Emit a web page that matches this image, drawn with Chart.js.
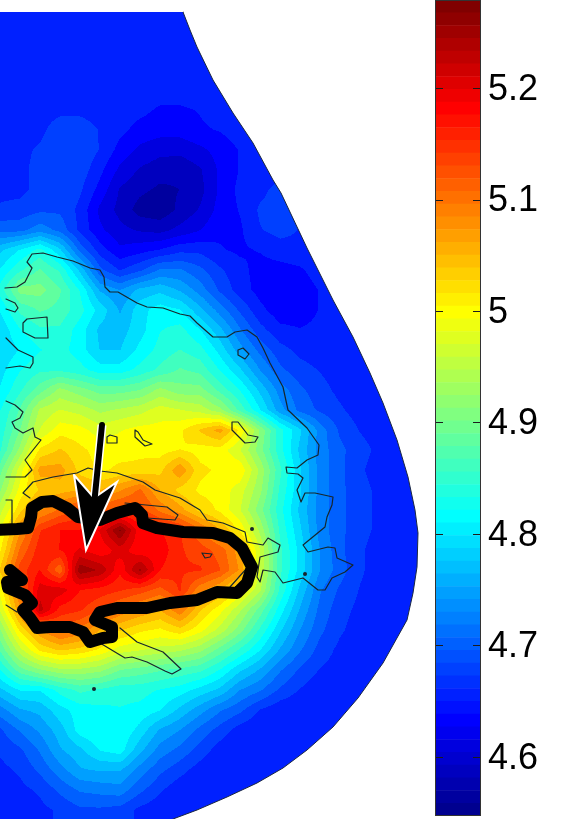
<!DOCTYPE html>
<html>
<head>
<meta charset="utf-8">
<title>Map</title>
<script src="https://cdn.jsdelivr.net/npm/chart.js@4/dist/chart.umd.min.js"></script>
<style>
html, body { margin: 0; padding: 0; background: #fff; }
#mapChart { position: absolute; left: 0; top: 0; }
#barChart { position: absolute; left: 430px; top: 0; }
</style>
</head>
<body>
<canvas id="mapChart" width="420" height="819"></canvas>
<canvas id="barChart" width="132" height="819"></canvas>
<script>
const colorMin = 4.547, colorMax = 5.279;
const colorLevels = 64;
const tickValues = [4.6, 4.7, 4.8, 4.9, 5, 5.1, 5.2];
const tickLabels = ['4.6', '4.7', '4.8', '4.9', '5', '5.1', '5.2'];

// field, one row per gridY, columns at gridX (last value carries to the edge)
const gridX = [0, 20, 40, 60, 80, 100, 120, 140, 160, 180, 200, 220, 240, 260, 280, 300, 320, 340, 360, 380, 400, 420];
const gridY = [10, 30, 50, 70, 90, 110, 130, 150, 170, 190, 210, 230, 250, 270, 290, 310, 330, 350, 370, 390, 410, 430, 450, 470, 490, 510, 530, 550, 570, 590, 610, 630, 650, 670, 690, 710, 730, 750, 770, 790, 810];
const fieldRows = [
  [4.65],
  [4.65],
  [4.65],
  [4.65],
  [4.65],
  [4.65, 4.65, 4.65, 4.655, 4.655, 4.65, 4.65, 4.645, 4.635, 4.635, 4.64, 4.65],
  [4.65, 4.65, 4.655, 4.675, 4.675, 4.66, 4.645, 4.63, 4.625, 4.625, 4.635, 4.64, 4.65],
  [4.65, 4.655, 4.665, 4.68, 4.68, 4.66, 4.63, 4.61, 4.60, 4.60, 4.61, 4.625, 4.64, 4.65],
  [4.65, 4.655, 4.67, 4.68, 4.675, 4.645, 4.61, 4.59, 4.58, 4.575, 4.59, 4.62, 4.64, 4.65],
  [4.655, 4.655, 4.67, 4.68, 4.665, 4.63, 4.59, 4.575, 4.565, 4.57, 4.585, 4.62, 4.645, 4.655, 4.67],
  [4.665, 4.67, 4.68, 4.68, 4.655, 4.61, 4.585, 4.56, 4.555, 4.575, 4.595, 4.625, 4.64, 4.665, 4.67, 4.665],
  [4.70, 4.70, 4.72, 4.70, 4.655, 4.62, 4.60, 4.59, 4.585, 4.60, 4.615, 4.635, 4.635, 4.66, 4.67, 4.66],
  [4.77, 4.80, 4.83, 4.78, 4.70, 4.65, 4.62, 4.63, 4.64, 4.655, 4.655, 4.64, 4.635, 4.64, 4.65, 4.655, 4.66],
  [4.80, 4.84, 4.87, 4.84, 4.77, 4.69, 4.66, 4.68, 4.71, 4.71, 4.69, 4.665, 4.645, 4.63, 4.63, 4.635, 4.65],
  [4.83, 4.90, 4.90, 4.87, 4.82, 4.75, 4.73, 4.76, 4.77, 4.75, 4.72, 4.68, 4.65, 4.63, 4.625, 4.625, 4.64, 4.65],
  [4.80, 4.85, 4.87, 4.86, 4.83, 4.79, 4.75, 4.79, 4.81, 4.80, 4.76, 4.72, 4.68, 4.645, 4.625, 4.625, 4.64, 4.65],
  [4.78, 4.82, 4.84, 4.84, 4.81, 4.77, 4.765, 4.79, 4.82, 4.83, 4.80, 4.76, 4.71, 4.67, 4.645, 4.64, 4.645, 4.65, 4.655],
  [4.78, 4.80, 4.82, 4.83, 4.81, 4.775, 4.775, 4.805, 4.83, 4.845, 4.83, 4.79, 4.74, 4.70, 4.67, 4.655, 4.65, 4.65, 4.65],
  [4.79, 4.82, 4.84, 4.84, 4.83, 4.81, 4.81, 4.83, 4.85, 4.87, 4.86, 4.82, 4.78, 4.73, 4.69, 4.67, 4.66, 4.65],
  [4.80, 4.84, 4.88, 4.92, 4.90, 4.88, 4.88, 4.89, 4.92, 4.90, 4.90, 4.86, 4.82, 4.77, 4.72, 4.69, 4.67, 4.655, 4.65],
  [4.82, 4.87, 4.94, 4.96, 4.95, 4.93, 4.94, 4.95, 4.97, 4.96, 4.95, 4.92, 4.86, 4.80, 4.74, 4.70, 4.68, 4.665, 4.65],
  [4.83, 4.89, 4.96, 4.995, 4.99, 4.97, 4.98, 4.99, 4.99, 5.00, 5.03, 5.06, 5.00, 4.91, 4.83, 4.78, 4.72, 4.68, 4.66, 4.65],
  [4.84, 4.92, 5.01, 5.03, 5.01, 4.995, 4.995, 5.00, 4.995, 5.005, 4.995, 4.995, 4.96, 4.90, 4.83, 4.77, 4.72, 4.69, 4.67, 4.655, 4.65],
  [4.88, 4.97, 5.06, 5.06, 5.02, 5.00, 5.01, 5.01, 5.02, 5.07, 5.01, 5.00, 5.00, 4.93, 4.85, 4.78, 4.72, 4.69, 4.665, 4.65],
  [4.91, 4.99, 5.03, 5.04, 5.05, 5.05, 5.07, 5.10, 5.05, 5.02, 5.00, 4.995, 4.97, 4.92, 4.84, 4.78, 4.72, 4.69, 4.67, 4.655, 4.65],
  [4.95, 5.02, 5.07, 5.10, 5.13, 5.11, 5.13, 5.13, 5.09, 5.06, 5.02, 5.00, 4.96, 4.90, 4.83, 4.77, 4.72, 4.69, 4.67, 4.655, 4.65],
  [4.98, 5.07, 5.14, 5.165, 5.165, 5.19, 5.26, 5.17, 5.165, 5.145, 5.10, 5.05, 5.00, 4.93, 4.84, 4.78, 4.72, 4.69, 4.67, 4.655, 4.65],
  [5.00, 5.10, 5.155, 5.165, 5.19, 5.17, 5.20, 5.17, 5.18, 5.145, 5.13, 5.11, 5.06, 4.96, 4.85, 4.79, 4.73, 4.69, 4.665, 4.65],
  [5.03, 5.13, 5.165, 5.10, 5.25, 5.23, 5.17, 5.24, 5.165, 5.145, 5.145, 5.12, 5.07, 4.96, 4.85, 4.79, 4.73, 4.695, 4.665, 4.65],
  [4.99, 5.10, 5.20, 5.20, 5.165, 5.155, 5.145, 5.13, 5.11, 5.145, 5.08, 5.05, 5.00, 4.94, 4.84, 4.77, 4.71, 4.68, 4.66, 4.65],
  [4.96, 5.07, 5.22, 5.155, 5.145, 5.12, 5.09, 5.07, 5.05, 5.09, 5.03, 4.99, 4.94, 4.88, 4.81, 4.75, 4.70, 4.67, 4.655, 4.65],
  [4.91, 5.01, 5.07, 5.11, 5.09, 5.05, 5.03, 5.01, 5.00, 5.02, 4.99, 4.95, 4.90, 4.84, 4.78, 4.73, 4.69, 4.665, 4.65],
  [4.87, 4.95, 5.01, 5.03, 5.02, 5.00, 4.97, 4.96, 4.95, 4.94, 4.92, 4.88, 4.84, 4.80, 4.75, 4.71, 4.675, 4.655, 4.65],
  [4.82, 4.88, 4.91, 4.93, 4.93, 4.92, 4.89, 4.88, 4.87, 4.86, 4.85, 4.82, 4.78, 4.75, 4.71, 4.68, 4.66, 4.65],
  [4.77, 4.80, 4.80, 4.83, 4.85, 4.84, 4.83, 4.83, 4.82, 4.81, 4.79, 4.77, 4.73, 4.71, 4.68, 4.66, 4.645, 4.64],
  [4.72, 4.75, 4.76, 4.79, 4.81, 4.815, 4.82, 4.815, 4.80, 4.77, 4.74, 4.71, 4.69, 4.66, 4.645, 4.64],
  [4.68, 4.71, 4.735, 4.765, 4.81, 4.82, 4.82, 4.79, 4.75, 4.73, 4.70, 4.675, 4.65, 4.64],
  [4.665, 4.68, 4.71, 4.75, 4.77, 4.80, 4.81, 4.76, 4.72, 4.70, 4.675, 4.65, 4.64],
  [4.655, 4.665, 4.69, 4.72, 4.75, 4.755, 4.755, 4.72, 4.69, 4.67, 4.65, 4.64],
  [4.65, 4.655, 4.665, 4.69, 4.71, 4.715, 4.72, 4.69, 4.665, 4.645, 4.64],
  [4.64, 4.65, 4.655, 4.665, 4.68, 4.68, 4.675, 4.655, 4.645, 4.64]
];

// outlines, all as [x, y] in map units
const outerEdge = [[0, 12], [183, 12], [190, 30], [197, 47], [213, 80], [233, 113], [253, 143], [273, 180], [281, 193], [307, 248], [333, 300], [353, 337], [370, 373], [383, 403], [397, 440], [408, 477], [415, 510], [418, 533], [417, 567], [413, 593], [407, 620], [383, 663], [358, 698], [333, 727], [307, 750], [283, 768], [257, 783], [227, 797], [197, 810], [173, 819], [0, 819]];
const coastMain = [[5, 288], [17, 287], [25, 282], [32, 268], [27, 262], [32, 254], [43, 253], [57, 257], [73, 261], [90, 268], [100, 270], [104, 277], [105, 287], [110, 292], [118, 292], [137, 303], [147, 307], [163, 308], [180, 314], [190, 316], [197, 323], [213, 337], [227, 337], [235, 332], [247, 330], [257, 337], [263, 348], [270, 363], [283, 387], [288, 410], [307, 428], [319, 445], [318, 455], [307, 460], [297, 468], [286, 467], [287, 473], [298, 474], [303, 478], [297, 490], [301, 502], [305, 493], [315, 493], [333, 497], [332, 505], [327, 517], [325, 527], [303, 545], [308, 552], [328, 547], [335, 548], [337, 558], [353, 565], [345, 572], [332, 578], [325, 590], [318, 590], [303, 578], [287, 582], [283, 583], [275, 572], [263, 570], [260, 582], [257, 577], [260, 557], [278, 552], [280, 545], [268, 538], [263, 545], [247, 542], [245, 532], [223, 523], [207, 520], [200, 510], [180, 498], [155, 490], [143, 482], [117, 473], [100, 471], [88, 468], [77, 473], [53, 477], [33, 482], [23, 493], [30, 498]];
const coastWest = [[6, 401], [15, 405], [23, 412], [20, 418], [12, 422], [15, 428], [23, 433], [33, 428], [35, 437], [41, 440], [25, 460], [32, 470], [25, 477], [6, 477]];
const coastPieces = [
  [[6, 299], [15, 303], [18, 308], [15, 312], [6, 309]],
  [[23, 323], [27, 319], [47, 317], [48, 338], [35, 338], [23, 332], [23, 323]],
  [[6, 338], [18, 350], [33, 357], [33, 363], [30, 368], [20, 366], [6, 368]],
  [[238, 350], [243, 348], [249, 354], [245, 359], [238, 355], [238, 350]],
  [[107, 437], [110, 435], [117, 437], [117, 443], [107, 443], [107, 437]],
  [[135, 430], [138, 432], [143, 440], [152, 444], [145, 446], [135, 437], [135, 430]],
  [[232, 422], [238, 422], [248, 435], [258, 437], [255, 442], [245, 443], [232, 430], [232, 422]],
  [[125, 503], [167, 507], [178, 515], [175, 520], [147, 518]],
  [[202, 553], [212, 554], [210, 557], [205, 558], [202, 553]],
  [[6, 500], [12, 500], [12, 525]],
  [[6, 605], [17, 612]],
  [[230, 587], [247, 568]],
  [[120, 628], [137, 642], [163, 652], [181, 669], [172, 674], [165, 671], [147, 662], [132, 657], [125, 658], [100, 643]]
];
const coastSpots = [{ x: 94, y: 689 }, { x: 252, y: 529 }, { x: 305, y: 574 }];
const thickOutline = [[-3, 530], [17, 529], [28, 528], [31, 517], [32, 508], [42, 502], [53, 501], [67, 508], [78, 517], [100, 520], [117, 513], [135, 508], [142, 515], [143, 523], [157, 528], [183, 532], [213, 533], [230, 538], [242, 548], [252, 567], [247, 583], [237, 593], [217, 592], [197, 600], [170, 603], [147, 608], [117, 608], [100, 612], [95, 620], [112, 627], [112, 637], [103, 638], [90, 642], [83, 632], [70, 627], [50, 627], [37, 628], [30, 618], [23, 610], [32, 603], [25, 595], [8, 588], [7, 582], [22, 580], [10, 570]];
const arrowShaft = [[102, 425], [94, 505]];
const arrowHead = [[74, 475], [94, 498], [117, 482], [86, 550], [74, 475]];

function jetColor(i) {
  const t = (i + 1) / colorLevels;
  const ch = d => Math.round(255 * Math.max(0, Math.min(1, 1.5 - Math.abs(4 * t - d))));
  return [ch(3), ch(2), ch(1)];
}

function toPoints(list) {
  return list.map(p => ({ x: p[0], y: p[1] }));
}

function lineSet(list, color, width) {
  return {
    data: toPoints(list), showLine: true, pointRadius: 0, borderColor: color, borderWidth: width,
    borderCapStyle: 'round', borderJoinStyle: 'round', tension: 0
  };
}

function fieldAt(x, y) {
  const step = 20;
  const gx = Math.max(0, Math.min(gridX.length - 1.001, (x - gridX[0]) / step));
  const gy = Math.max(0, Math.min(gridY.length - 1.001, (y - gridY[0]) / step));
  const i = Math.floor(gx), j = Math.floor(gy);
  const fx = gx - i, fy = gy - j;
  const cell = (r, c) => fieldRows[r][Math.min(c, fieldRows[r].length - 1)];
  const top = cell(j, i) * (1 - fx) + cell(j, i + 1) * fx;
  const bot = cell(j + 1, i) * (1 - fx) + cell(j + 1, i + 1) * fx;
  return top * (1 - fy) + bot * fy;
}

// paints the filled contours under the lines, clipped to the outer edge
const fieldPlugin = {
  id: 'field',
  beforeDatasetsDraw(chart) {
    const { ctx, scales: { x, y }, chartArea } = chart;
    const w = Math.round(chartArea.right - chartArea.left), h = Math.round(chartArea.bottom - chartArea.top);
    const off = document.createElement('canvas');
    off.width = w; off.height = h;
    const octx = off.getContext('2d');
    const img = octx.createImageData(w, h);
    for (let py = 0; py < h; py++) {
      const vy = y.getValueForPixel(py + 0.5);
      for (let px = 0; px < w; px++) {
        const v = fieldAt(x.getValueForPixel(px + 0.5), vy);
        let idx = Math.floor((v - colorMin) / (colorMax - colorMin) * colorLevels);
        idx = Math.floor(idx / 2) * 2 + 1;
        idx = Math.max(0, Math.min(colorLevels - 1, idx));
        const c = jetColor(idx), o = (py * w + px) * 4;
        img.data[o] = c[0]; img.data[o + 1] = c[1]; img.data[o + 2] = c[2]; img.data[o + 3] = 255;
      }
    }
    octx.putImageData(img, 0, 0);
    ctx.save();
    ctx.beginPath();
    outerEdge.forEach((p, i) => {
      const px = x.getPixelForValue(p[0]), py = y.getPixelForValue(p[1]);
      if (i === 0) ctx.moveTo(px, py); else ctx.lineTo(px, py);
    });
    ctx.closePath();
    ctx.clip();
    ctx.filter = 'blur(0.6px)';
    ctx.drawImage(off, chartArea.left, chartArea.top);
    ctx.restore();
  }
};

// first dataset ends up on top
const mapDatasets = [
  lineSet(arrowShaft, '#000', 6),
  Object.assign(lineSet(arrowHead, '#fff', 2), { fill: 'shape', backgroundColor: '#000', borderJoinStyle: 'miter' }),
  Object.assign(lineSet(arrowShaft, '#fff', 9), { borderCapStyle: 'butt' }),
  lineSet(thickOutline, '#000', 12),
  lineSet(coastMain, '#16262c', 1.2),
  lineSet(coastWest, '#16262c', 1.2)
].concat(coastPieces.map(p => lineSet(p, '#16262c', 1.2))).concat([
  { data: coastSpots, pointRadius: 2, pointBackgroundColor: '#16262c', pointBorderWidth: 0 },
  lineSet(outerEdge.slice(1, 30), '#1a2740', 1)
]);

new Chart(document.getElementById('mapChart'), {
  type: 'scatter',
  data: { datasets: mapDatasets },
  options: {
    responsive: false,
    animation: false,
    events: [],
    layout: { padding: 0, autoPadding: false },
    plugins: { legend: { display: false }, tooltip: { enabled: false } },
    scales: {
      x: { type: 'linear', display: false, min: 0, max: 420 },
      y: { type: 'linear', display: false, min: 0, max: 819, reverse: true }
    }
  },
  plugins: [fieldPlugin]
});

// colour key: one floating bar per level
const levelStep = (colorMax - colorMin) / colorLevels;
const levelBars = [];
for (let i = 0; i < colorLevels; i++) {
  const c = jetColor(i);
  levelBars.push({
    data: [[colorMin + i * levelStep, colorMin + (i + 1) * levelStep]],
    backgroundColor: `rgb(${c[0]},${c[1]},${c[2]})`,
    borderWidth: 0,
    grouped: false,
    barPercentage: 1,
    categoryPercentage: 1
  });
}

const barFrame = {
  id: 'barFrame',
  afterDatasetsDraw(chart) {
    const { ctx, chartArea: a, scales: { y } } = chart;
    ctx.save();
    ctx.strokeStyle = '#1c1c1c';
    ctx.lineWidth = 1;
    tickValues.forEach(v => {
      const py = Math.round(y.getPixelForValue(v)) + 0.5;
      ctx.beginPath();
      ctx.moveTo(a.left, py); ctx.lineTo(a.left + 8, py);
      ctx.moveTo(a.right - 8, py); ctx.lineTo(a.right, py);
      ctx.stroke();
    });
    ctx.strokeStyle = '#333';
    ctx.strokeRect(a.left + 0.5, a.top + 0.5, a.right - a.left - 1, a.bottom - a.top - 1);
    ctx.restore();
  }
};

new Chart(document.getElementById('barChart'), {
  type: 'bar',
  data: { labels: [''], datasets: levelBars },
  options: {
    responsive: false,
    animation: false,
    events: [],
    layout: { padding: { left: 5, top: 0, bottom: 3, right: 0 }, autoPadding: false },
    plugins: { legend: { display: false }, tooltip: { enabled: false } },
    scales: {
      x: { display: false },
      y: {
        position: 'right',
        min: colorMin,
        max: colorMax,
        afterBuildTicks: scale => { scale.ticks = tickValues.map(value => ({ value })); },
        afterFit: scale => { scale.width = 81; scale.paddingTop = 0; scale.paddingBottom = 0; },
        grid: { display: false, drawTicks: false },
        border: { display: false },
        ticks: {
          autoSkip: false,
          padding: 7,
          labelOffset: 2,
          color: '#000',
          font: { family: '"Liberation Sans"', size: 36 },
          callback: value => tickLabels[tickValues.findIndex(t => Math.abs(t - value) < 0.001)]
        }
      }
    }
  },
  plugins: [barFrame]
});
</script>
</body>
</html>
